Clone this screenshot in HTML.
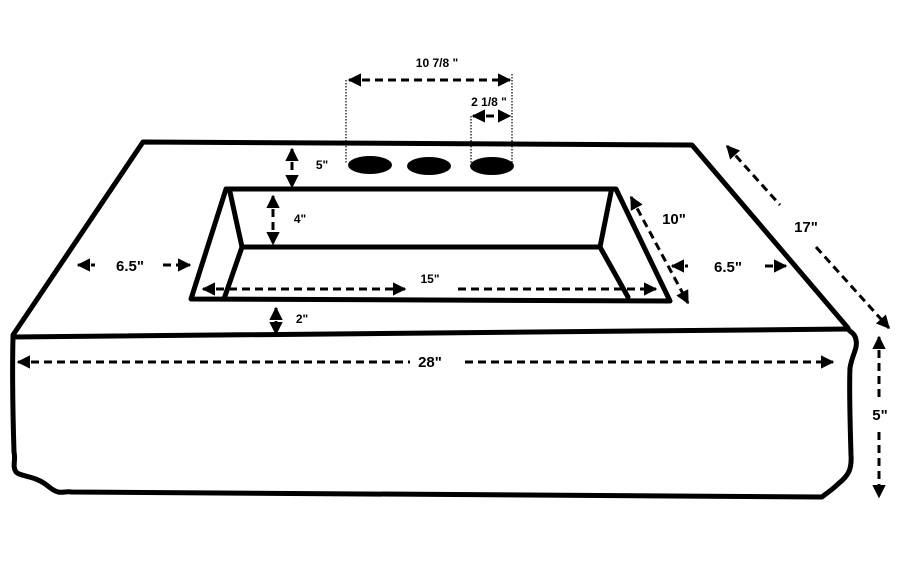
<!DOCTYPE html>
<html><head><meta charset="utf-8"><style>
html,body{margin:0;padding:0;background:#fff;width:899px;height:567px;overflow:hidden}
svg{display:block}
text{font-family:"Liberation Sans",Arial,sans-serif;font-weight:bold;fill:#000}
</style></head><body>
<svg width="899" height="567" viewBox="0 0 899 567" xmlns="http://www.w3.org/2000/svg">
<defs>
<marker id="a" viewBox="0 0 10 10" refX="9" refY="5" markerWidth="4.5" markerHeight="4.5" orient="auto-start-reverse" markerUnits="strokeWidth"><path d="M0,0 L10,5 L0,10 z" fill="#000"/></marker>
<marker id="b" viewBox="0 0 10 10" refX="9" refY="5" markerWidth="3.6" markerHeight="3.6" orient="auto-start-reverse" markerUnits="strokeWidth"><path d="M0,0 L10,5 L0,10 z" fill="#000"/></marker>
</defs>
<g fill="none" stroke="#000" stroke-width="5" stroke-linejoin="round" stroke-linecap="round">
<!-- top face -->
<path d="M13,335 L143,142 L692,145 L848,328"/>
<path d="M13,337 L848,329"/>
<!-- front -->
<path d="M13,337 C12,380 13,420 14,452 C16,460 12,466 16,472 C20,476 30,476 38,480 C48,484 50,490 58,492 C64,493 66,491 72,492 L822,497 C828,492 832,490 838,484 C848,476 852,470 851,455 C850,420 849,390 850,368 C852,355 858,348 856,340 C855,333 850,332 848,329"/>
<!-- sink -->
<path d="M191,299 L226,189 L616,189 L670,301 L191,299 Z"/>
<path d="M230,192 L242,247 L600,247 L611,192"/>
<path d="M242,247 L224,299"/>
<path d="M600,247 L628,297"/>
</g>
<!-- holes -->
<ellipse cx="370" cy="165" rx="22" ry="9"/>
<ellipse cx="429" cy="166" rx="22" ry="9"/>
<ellipse cx="492" cy="166" rx="22" ry="9"/>
<!-- dotted extension lines -->
<g stroke="#000" stroke-width="1.2" stroke-dasharray="1.5,1.5">
<line x1="346" y1="80" x2="346" y2="163"/>
<line x1="512" y1="74" x2="512" y2="163"/>
<line x1="471" y1="116" x2="471" y2="163"/>
</g>
<g fill="none" stroke="#000" stroke-width="3" stroke-dasharray="8,5">
<line x1="349" y1="80" x2="510" y2="80" marker-start="url(#a)" marker-end="url(#a)"/>
<line x1="473" y1="116" x2="510" y2="116" marker-start="url(#a)" marker-end="url(#a)"/>
<line x1="292" y1="149" x2="292" y2="187" marker-start="url(#a)" marker-end="url(#a)"/>
<line x1="273" y1="196" x2="273" y2="244" marker-start="url(#a)" marker-end="url(#a)"/>
<line x1="203" y1="289" x2="405" y2="289" marker-start="url(#a)" marker-end="url(#a)"/>
<line x1="458" y1="289" x2="656" y2="289" marker-end="url(#a)"/>
<line x1="276" y1="308" x2="276" y2="334" marker-start="url(#a)" marker-end="url(#a)"/>
<line x1="78" y1="265" x2="95" y2="265" marker-start="url(#a)"/>
<line x1="163" y1="265" x2="190" y2="265" marker-end="url(#a)"/>
<line x1="672" y1="266" x2="688" y2="266" marker-start="url(#a)"/>
<line x1="765" y1="266" x2="786" y2="266" marker-end="url(#a)"/>
<line x1="631" y1="197" x2="688" y2="303" marker-start="url(#a)" marker-end="url(#a)"/>
<line x1="727" y1="146" x2="780" y2="205" marker-start="url(#a)"/>
<line x1="816" y1="247" x2="889" y2="328" marker-end="url(#a)"/>
<line x1="18" y1="362" x2="410" y2="362" marker-start="url(#a)" marker-end="none"/>
<line x1="465" y1="362" x2="833" y2="362" marker-end="url(#a)"/>
<line x1="879" y1="337" x2="879" y2="398" marker-start="url(#a)"/>
<line x1="879" y1="432" x2="879" y2="497" marker-end="url(#a)"/>
</g>
<g font-size="13" text-anchor="middle">
<text x="437" y="67" font-size="12">10 7/8 "</text>
<text x="489" y="106" font-size="12">2 1/8 "</text>
<text x="322" y="169" font-size="12">5"</text>
<text x="300" y="223" font-size="12">4"</text>
<text x="430" y="283" font-size="12">15"</text>
<text x="302" y="323" font-size="12">2"</text>
<text x="130" y="271" font-size="15">6.5"</text>
<text x="728" y="272" font-size="15">6.5"</text>
<text x="674" y="224" font-size="15">10"</text>
<text x="806" y="232" font-size="15">17"</text>
<text x="430" y="367" font-size="15">28"</text>
<text x="880" y="420" font-size="15">5"</text>
</g>
</svg>
</body></html>
